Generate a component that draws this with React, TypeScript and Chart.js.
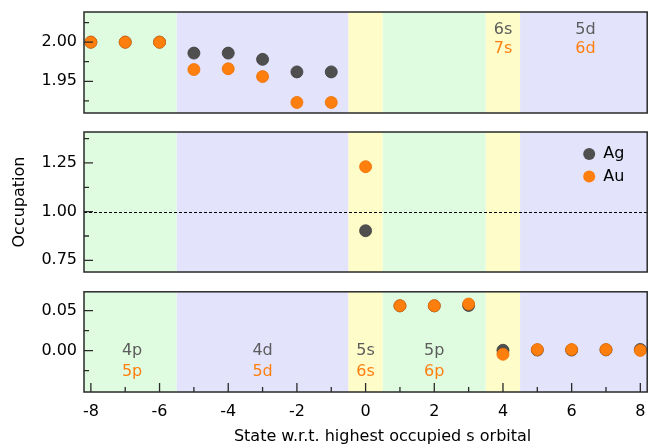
import { useEffect, useRef } from "react";
import { Chart, registerables } from "chart.js";

Chart.register(...registerables);

const FONT = "'DejaVu Sans', 'Liberation Sans', Arial, sans-serif";
Chart.defaults.font.family = FONT;
Chart.defaults.font.size = 16;
Chart.defaults.color = "#000";

// Orbital states relative to the highest occupied s orbital
const topStates = [-8, -7, -6, -5, -4, -3, -2, -1];
const agTop = [2.0, 2.0, 2.0, 1.986, 1.986, 1.978, 1.962, 1.962];
const auTop = [2.0, 2.0, 2.0, 1.965, 1.966, 1.956, 1.923, 1.923];

const midStates = [0];
const agMid = [0.902];
const auMid = [1.231];

const bottomStates = [1, 2, 3, 4, 5, 6, 7, 8];
const agBottom = [0.056, 0.056, 0.0565, 0.0005, 0.0008, 0.0008, 0.001, 0.0015];
const auBottom = [0.0562, 0.0562, 0.0583, -0.0045, 0.0013, 0.0013, 0.0013, 0.0003];

// Axis ticks
const xTicks = [-8, -6, -4, -2, 0, 2, 4, 6, 8];
const xMinorTicks = [-7, -5, -3, -1, 1, 3, 5, 7];
const topYTicks = [1.95, 2.0];
const topYMinor = [1.925, 1.975, 2.025];
const midYTicks = [0.75, 1.0, 1.25];
const midYMinor = [0.875, 1.125, 1.375];
const bottomYTicks = [0.0, 0.05];
const bottomYMinor = [-0.025, 0.025];

// Shell bands behind the points
const bandEdges = [-8.5, -5.5, -0.5, 0.5, 3.5, 4.5, 8.5];
const bandColors = ["#e0fce0", "#e3e3fc", "#fefcc8", "#e0fce0", "#fefcc8", "#e3e3fc"];

// Shell names (Ag above, Au below)
const topShellX = [4, 6.4];
const topShellAg = ["6s", "5d"];
const topShellAu = ["7s", "6d"];
const bottomShellX = [-6.8, -3, 0, 2];
const bottomShellAg = ["4p", "4d", "5s", "5p"];
const bottomShellAu = ["5p", "5d", "6s", "6p"];

const AG_COLOR = "#4f4f4f";
const AU_COLOR = "#ff7f0e";
const AG_TEXT = "#5c5c5c";
const X_MIN = -8.2;
const X_MAX = 8.2;
const referenceOccupation = 1.0;

type ShellText = { xs: number[]; ag: string[]; au: string[]; agY: number; auY: number };
type Decor = {
  yMajor: number[];
  yMinor: number[];
  xAxis?: boolean;
  shells?: ShellText;
  refLine?: number;
  legend?: boolean;
  xTitle?: string;
};

function decorPlugin(cfg: Decor) {
  return {
    id: "panelDecor",
    beforeDatasetsDraw(chart: any) {
      const { ctx, chartArea: a, scales } = chart;
      const xs = scales.x;
      const ys = scales.y;
      ctx.save();
      ctx.beginPath();
      ctx.rect(a.left, a.top, a.right - a.left, a.bottom - a.top);
      ctx.clip();
      for (let i = 0; i < bandColors.length; i++) {
        const x0 = xs.getPixelForValue(bandEdges[i]);
        const x1 = xs.getPixelForValue(bandEdges[i + 1]);
        ctx.fillStyle = bandColors[i];
        ctx.fillRect(x0, a.top, x1 - x0, a.bottom - a.top);
      }
      if (cfg.refLine !== undefined) {
        const y = Math.round(ys.getPixelForValue(cfg.refLine)) + 0.5;
        ctx.strokeStyle = "#000";
        ctx.lineWidth = 1;
        ctx.setLineDash([3, 2]);
        ctx.beginPath();
        ctx.moveTo(a.left, y);
        ctx.lineTo(a.right, y);
        ctx.stroke();
        ctx.setLineDash([]);
      }
      if (cfg.shells) {
        const s = cfg.shells;
        ctx.font = `16px ${FONT}`;
        ctx.textAlign = "center";
        ctx.textBaseline = "middle";
        s.xs.forEach((xv, i) => {
          const px = xs.getPixelForValue(xv);
          ctx.fillStyle = AG_TEXT;
          ctx.fillText(s.ag[i], px, ys.getPixelForValue(s.agY));
          ctx.fillStyle = AU_COLOR;
          ctx.fillText(s.au[i], px, ys.getPixelForValue(s.auY));
        });
      }
      ctx.restore();
    },
    afterDatasetsDraw(chart: any) {
      const { ctx, chartArea: a, scales } = chart;
      const xs = scales.x;
      const ys = scales.y;
      ctx.save();
      ctx.strokeStyle = "#2a2a2a";
      ctx.lineWidth = 1.5;
      ctx.strokeRect(a.left, a.top, a.right - a.left, a.bottom - a.top);
      ctx.lineWidth = 1.3;
      ctx.beginPath();
      cfg.yMajor.forEach((v) => {
        const y = ys.getPixelForValue(v);
        ctx.moveTo(a.left, y);
        ctx.lineTo(a.left + 9, y);
      });
      cfg.yMinor.forEach((v) => {
        const y = ys.getPixelForValue(v);
        ctx.moveTo(a.left, y);
        ctx.lineTo(a.left + 5, y);
      });
      if (cfg.xAxis) {
        xTicks.forEach((v) => {
          const x = xs.getPixelForValue(v);
          ctx.moveTo(x, a.bottom);
          ctx.lineTo(x, a.bottom - 9);
        });
        xMinorTicks.forEach((v) => {
          const x = xs.getPixelForValue(v);
          ctx.moveTo(x, a.bottom);
          ctx.lineTo(x, a.bottom - 5);
        });
      }
      ctx.stroke();

      if (cfg.legend) {
        const mx = a.right - 58;
        const sets = chart.data.datasets;
        ctx.font = `16px ${FONT}`;
        ctx.textAlign = "left";
        ctx.textBaseline = "middle";
        sets.forEach((ds: any, i: number) => {
          const my = a.top + 22 + i * 22.5;
          ctx.fillStyle = ds.backgroundColor;
          ctx.beginPath();
          ctx.arc(mx, my, 6, 0, Math.PI * 2);
          ctx.fill();
          ctx.fillStyle = "#000";
          ctx.fillText(ds.label, mx + 14, my);
        });
      }
      if (cfg.xTitle) {
        ctx.font = `16px ${FONT}`;
        ctx.fillStyle = "#000";
        ctx.textAlign = "center";
        ctx.textBaseline = "middle";
        ctx.fillText(cfg.xTitle, (a.left + a.right) / 2 + 17, a.bottom + 45);
      }
      ctx.restore();
    },
  };
}

function pts(xs: number[], ys: number[]) {
  return xs.map((x, i) => ({ x, y: ys[i] }));
}

function makeConfig(opts: {
  states: number[];
  ag: number[];
  au: number[];
  yMin: number;
  yMax: number;
  yTicks: number[];
  yMinor: number[];
  padTop: number;
  padBottom: number;
  showX?: boolean;
  yTitle?: string;
  decor: Omit<Decor, "yMajor" | "yMinor">;
}) {
  const marker = {
    pointRadius: 6,
    pointHoverRadius: 6,
    showLine: false,
  };
  const showX = !!opts.showX;
  return {
    type: "scatter" as const,
    data: {
      datasets: [
        {
          label: "Ag",
          data: pts(opts.states, opts.ag),
          backgroundColor: AG_COLOR,
          borderColor: "#3c3c3c",
          borderWidth: 0.8,
          order: 1,
          ...marker,
        },
        {
          label: "Au",
          data: pts(opts.states, opts.au),
          backgroundColor: AU_COLOR,
          borderColor: "#ee7000",
          borderWidth: 0.8,
          order: 0,
          ...marker,
        },
      ],
    },
    options: {
      responsive: false,
      animation: false as const,
      events: [],
      layout: { padding: { left: 0, right: 5, top: opts.padTop, bottom: opts.padBottom } },
      plugins: { legend: { display: false }, tooltip: { enabled: false } },
      scales: {
        x: {
          type: "linear" as const,
          min: X_MIN,
          max: X_MAX,
          display: showX,
          grid: { display: false, drawTicks: false },
          border: { display: false },
          ticks: { padding: 10, color: "#000", font: { size: 16 }, maxRotation: 0 },
          afterBuildTicks: (s: any) => {
            s.ticks = xTicks.map((v) => ({ value: v }));
          },
          afterFit: (s: any) => {
            s.height = showX ? 55 : 0;
            s.paddingLeft = 0;
            s.paddingRight = 0;
          },
        },
        y: {
          type: "linear" as const,
          min: opts.yMin,
          max: opts.yMax,
          grid: { display: false, drawTicks: false },
          border: { display: false },
          ticks: {
            padding: 7,
            color: "#000",
            font: { size: 16 },
            callback: (v: any) => Number(v).toFixed(2),
          },
          title: {
            display: !!opts.yTitle,
            text: opts.yTitle || "",
            color: "#000",
            font: { size: 16 },
            padding: { top: 10, bottom: 0 },
          },
          afterBuildTicks: (s: any) => {
            s.ticks = opts.yTicks.map((v) => ({ value: v }));
          },
          afterFit: (s: any) => {
            s.width = 84;
            s.paddingTop = 0;
            s.paddingBottom = 0;
          },
        },
      },
    },
    plugins: [decorPlugin({ yMajor: opts.yTicks, yMinor: opts.yMinor, ...opts.decor })],
  };
}

function Panel(props: { top: number; height: number; config: any }) {
  const ref = useRef<HTMLCanvasElement | null>(null);
  useEffect(() => {
    if (!ref.current) return;
    const chart = new Chart(ref.current, props.config);
    return () => chart.destroy();
  }, []);
  return (
    <canvas
      ref={ref}
      width={654}
      height={props.height}
      style={{ position: "absolute", left: 0, top: props.top, width: 654, height: props.height }}
    />
  );
}

export default function App() {
  const topConfig = makeConfig({
    states: topStates,
    ag: agTop,
    au: auTop,
    yMin: 1.9095,
    yMax: 2.0385,
    yTicks: topYTicks,
    yMinor: topYMinor,
    padTop: 12,
    padBottom: 12,
    decor: {
      shells: { xs: topShellX, ag: topShellAg, au: topShellAu, agY: 2.016, auY: 1.992 },
    },
  });
  const midConfig = makeConfig({
    states: midStates,
    ag: agMid,
    au: auMid,
    yMin: 0.69,
    yMax: 1.409,
    yTicks: midYTicks,
    yMinor: midYMinor,
    padTop: 7,
    padBottom: 13,
    yTitle: "Occupation",
    decor: { refLine: referenceOccupation, legend: true },
  });
  const bottomConfig = makeConfig({
    states: bottomStates,
    ag: agBottom,
    au: auBottom,
    yMin: -0.0517,
    yMax: 0.0736,
    yTicks: bottomYTicks,
    yMinor: bottomYMinor,
    padTop: 6,
    padBottom: 0,
    showX: true,
    decor: {
      xAxis: true,
      shells: { xs: bottomShellX, ag: bottomShellAg, au: bottomShellAu, agY: 0.0, auY: -0.026 },
      xTitle: "State w.r.t. highest occupied s orbital",
    },
  });
  return (
    <div style={{ position: "absolute", left: 0, top: 0, width: 654, height: 447, background: "#fff" }}>
      <Panel top={0} height={125} config={topConfig} />
      <Panel top={125} height={160} config={midConfig} />
      <Panel top={285} height={162} config={bottomConfig} />
    </div>
  );
}
